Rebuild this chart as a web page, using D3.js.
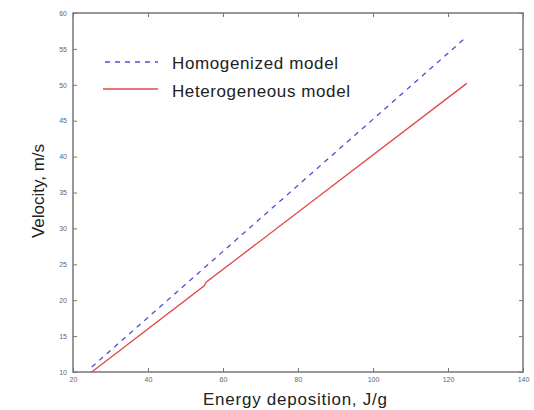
<!DOCTYPE html>
<html><head><meta charset="utf-8">
<script src="https://cdn.jsdelivr.net/npm/d3@7"></script>
<style>body{margin:0;background:#fff}</style>
</head><body><svg id="c" width="534" height="410"></svg>
<script>
const xTicks = [20, 40, 60, 80, 100, 120, 140];
const yTicks = [10, 15, 20, 25, 30, 35, 40, 45, 50, 55, 60];
const homogenized = [[25, 10.7], [125, 56.7]];
const heterogeneous = [[25, 10.0], [55, 22.0], [55.5, 22.5], [125, 50.2]];
const seriesNames = ["Homogenized model", "Heterogeneous model"];

const svg = d3.select("#c");
const m = {l: 73, t: 13, r: 523, b: 372};
const x = d3.scaleLinear().domain([20, 140]).range([m.l, m.r]);
const y = d3.scaleLinear().domain([10, 60]).range([m.b, m.t]);

const g = svg.append("g");
const tickLen = 4;
const axisColor = "#777";
g.append("rect").attr("x", m.l).attr("y", m.t).attr("width", m.r - m.l).attr("height", m.b - m.t)
  .attr("fill", "none").attr("stroke", axisColor).attr("stroke-width", 1.5);

const ax = d3.axisBottom(x).tickValues(xTicks).tickSize(-tickLen).tickPadding(6).tickFormat(d3.format("d"));
const axb = g.append("g").attr("transform", `translate(0,${m.b})`).call(ax);
const axt = g.append("g").attr("transform", `translate(0,${m.t})`).call(d3.axisTop(x).tickValues(xTicks).tickSize(-tickLen).tickFormat(""));
const ayl = g.append("g").attr("transform", `translate(${m.l},0)`).call(d3.axisLeft(y).tickValues(yTicks).tickSize(-tickLen).tickPadding(6).tickFormat(d3.format("d")));
const ayr = g.append("g").attr("transform", `translate(${m.r},0)`).call(d3.axisRight(y).tickValues(yTicks).tickSize(-tickLen).tickFormat(""));
[axb, axt, ayl, ayr].forEach(a => {
  a.select(".domain").remove();
  a.selectAll(".tick line").attr("stroke", axisColor);
  a.selectAll(".tick text").attr("fill", "#666").attr("font-size", 7).attr("font-family", "Liberation Sans, Arial, sans-serif");
});
axb.selectAll(".tick text").attr("dy", "0.5em");

const line = d3.line().x(d => x(d[0])).y(d => y(d[1]));
g.append("path").datum(homogenized).attr("d", line).attr("fill", "none")
  .attr("stroke", "#4a4fd0").attr("stroke-width", 1.3).attr("stroke-dasharray", "5,5");
g.append("path").datum(heterogeneous).attr("d", line).attr("fill", "none")
  .attr("stroke", "#e04848").attr("stroke-width", 1.3);

const lg = svg.append("g");
lg.append("line").attr("x1", 105).attr("x2", 158).attr("y1", 62).attr("y2", 62)
  .attr("stroke", "#4a4fd0").attr("stroke-width", 1.3).attr("stroke-dasharray", "5,5");
lg.append("line").attr("x1", 103).attr("x2", 158).attr("y1", 89).attr("y2", 89)
  .attr("stroke", "#e04848").attr("stroke-width", 1.3);
const ff = "Liberation Sans, Arial, sans-serif";
lg.append("text").attr("x", 172).attr("y", 69).text(seriesNames[0])
  .attr("font-size", 17).attr("font-family", ff).attr("fill", "#222").attr("textLength", 166);
lg.append("text").attr("x", 172).attr("y", 97).text(seriesNames[1])
  .attr("font-size", 17).attr("font-family", ff).attr("fill", "#222").attr("textLength", 178);

svg.append("text").attr("x", 295).attr("y", 405).attr("text-anchor", "middle")
  .attr("font-size", 17).attr("font-family", ff).attr("fill", "#222").attr("textLength", 184).text("Energy deposition, J/g");
svg.append("text").attr("transform", "translate(44,191) rotate(-90)").attr("text-anchor", "middle")
  .attr("font-size", 17).attr("font-family", ff).attr("fill", "#222").text("Velocity, m/s");
</script></body></html>
